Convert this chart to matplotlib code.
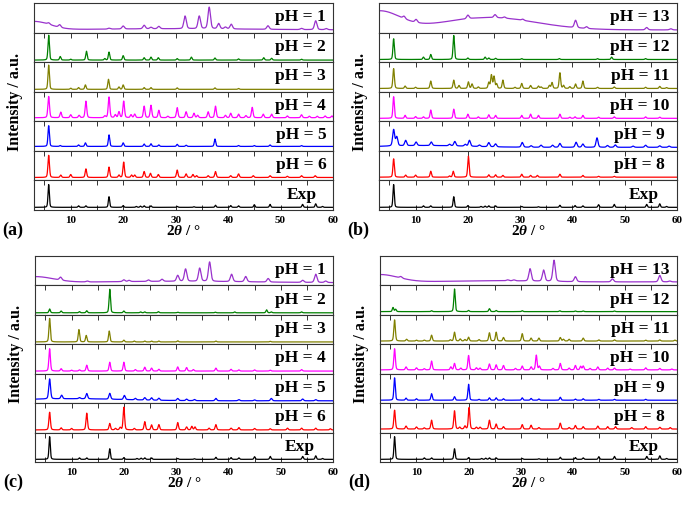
import numpy as np
import matplotlib
matplotlib.use("Agg")
import matplotlib.pyplot as plt

plt.rcParams['font.family'] = ['Liberation Serif', 'DejaVu Serif']
plt.rcParams['font.weight'] = 'bold'
plt.rcParams['mathtext.fontset'] = 'custom'
plt.rcParams['mathtext.rm'] = 'Liberation Serif:bold'
plt.rcParams['mathtext.it'] = 'Liberation Serif:italic:bold'
plt.rcParams['mathtext.bf'] = 'Liberation Serif:bold'

# ---------------- data: peak positions (2theta) and heights (fraction of strip) ----------------
EXP_POS = [5.8, 11.5, 12.9, 17.3, 20.0, 22.5, 23.3, 24.0, 25.3, 30.3, 33.5, 37.6, 40.5, 42.0, 45.0, 48.0, 54.2, 56.7, 58.0]
EXP_HT  = [0.77, 0.05, 0.05, 0.36, 0.06, 0.03, 0.04, 0.05, 0.05, 0.03, 0.02, 0.07, 0.06, 0.05, 0.09, 0.10, 0.10, 0.12, 0.03]
EXP_BASE = 0.09

# panel (a)
A1_POS = [5.8, 7.9, 17.3, 20.0, 24.0, 25.3, 26.8, 31.8, 34.5, 36.4, 38.2, 39.5, 40.6, 47.6, 54.0, 56.7, 58.7]
A1_HT  = [0.05, 0.09, 0.03, 0.10, 0.12, 0.05, 0.08, 0.43, 0.43, 0.73, 0.18, 0.06, 0.16, 0.12, 0.04, 0.30, 0.04]
A1_BG  = [(3.0, 0.28, 3.0), (30.0, 0.04, 15.0)]
A1_BASE = 0.09
A2_POS = [5.8, 8.0, 10.0, 13.0, 16.5, 17.3, 20.0, 24.0, 25.3, 26.7, 30.3, 33.0, 37.5, 42.0, 46.8, 48.3, 54.0]
A2_HT  = [0.84, 0.12, 0.03, 0.30, 0.05, 0.27, 0.15, 0.08, 0.10, 0.08, 0.05, 0.10, 0.07, 0.04, 0.08, 0.06, 0.03]
A2_BASE = 0.07
A3_POS = [5.8, 10.0, 11.5, 12.8, 17.2, 19.2, 20.0, 24.0, 25.3, 30.3, 37.5, 42.0]
A3_HT  = [0.82, 0.04, 0.06, 0.15, 0.34, 0.08, 0.15, 0.06, 0.06, 0.05, 0.05, 0.03]
A3_BASE = 0.08
A4_POS = [5.8, 8.1, 10.0, 11.6, 12.9, 16.5, 17.3, 18.5, 19.2, 20.1, 21.5, 22.2, 24.0, 25.3, 26.8, 28.5, 30.3, 32.0,
          33.5, 34.2, 36.2, 37.6, 39.5, 40.5, 42.0, 43.4, 44.6, 46.7, 48.3, 51.3, 54.0, 55.5, 57.0, 58.5, 59.8]
A4_HT  = [0.72, 0.19, 0.10, 0.08, 0.56, 0.06, 0.70, 0.10, 0.20, 0.56, 0.10, 0.12, 0.39, 0.42, 0.25, 0.05, 0.34, 0.20,
          0.15, 0.08, 0.20, 0.39, 0.08, 0.15, 0.12, 0.07, 0.35, 0.12, 0.12, 0.06, 0.10, 0.05, 0.05, 0.06, 0.06]
A4_BASE = 0.12
A5_POS = [5.8, 8.0, 11.5, 12.8, 17.3, 20.0, 24.0, 25.3, 26.8, 30.3, 32.0, 37.5, 42.0, 45.0, 48.0, 54.0]
A5_HT  = [0.70, 0.03, 0.05, 0.12, 0.39, 0.12, 0.08, 0.09, 0.05, 0.07, 0.04, 0.25, 0.03, 0.03, 0.05, 0.03]
A5_BASE = 0.15
A6_POS = [5.8, 8.1, 10.0, 12.9, 17.3, 19.2, 20.1, 21.6, 22.2, 24.0, 25.2, 26.7, 30.3, 32.0, 33.3, 34.0, 36.2, 37.6,
          40.5, 42.0, 44.8, 48.0, 51.3, 54.0, 56.6]
A6_HT  = [0.75, 0.08, 0.10, 0.29, 0.35, 0.08, 0.52, 0.08, 0.08, 0.20, 0.14, 0.10, 0.25, 0.12, 0.10, 0.06, 0.06, 0.20,
          0.06, 0.12, 0.06, 0.06, 0.04, 0.06, 0.06]
A6_BASE = 0.10

# panel (b)
B13_POS = [7.8, 10.1, 20.0, 25.2, 27.0, 30.5, 40.6, 42.7, 54.2, 58.8]
B13_HT  = [0.08, 0.10, 0.12, 0.10, 0.04, 0.04, 0.25, 0.06, 0.08, 0.04]
B13_BG  = [(3.0, 0.62, 4.0), (24.0, 0.42, 9.0)]
B13_BASE = 0.09
B12_POS = [5.8, 11.5, 12.9, 17.3, 20.0, 23.3, 24.0, 25.3, 30.3, 37.5, 44.8, 47.5, 54.0]
B12_HT  = [0.70, 0.08, 0.17, 0.81, 0.05, 0.08, 0.05, 0.04, 0.03, 0.03, 0.03, 0.08, 0.03]
B12_BASE = 0.09
B11_POS = [5.8, 8.0, 10.0, 12.9, 17.3, 18.3, 20.1, 20.8, 22.0, 24.0, 24.5, 25.0, 25.5, 26.7, 29.0, 30.3, 32.0, 33.5,
           34.0, 35.6, 36.1, 37.6, 38.3, 39.5, 40.6, 42.0, 44.8, 48.0, 54.0, 56.7, 58.0]
B11_HT  = [0.67, 0.08, 0.04, 0.25, 0.28, 0.10, 0.22, 0.15, 0.05, 0.20, 0.45, 0.40, 0.15, 0.28, 0.04, 0.17, 0.10, 0.08,
           0.05, 0.10, 0.20, 0.53, 0.10, 0.06, 0.15, 0.25, 0.04, 0.05, 0.04, 0.07, 0.03]
B11_BASE = 0.11
B10_POS = [5.8, 8.0, 10.0, 11.5, 12.9, 17.3, 20.0, 22.0, 24.0, 25.3, 30.3, 32.0, 33.5, 37.6, 39.5, 40.5, 42.0, 45.0,
           48.0, 54.0, 56.7]
B10_HT  = [0.73, 0.10, 0.06, 0.05, 0.28, 0.31, 0.14, 0.05, 0.12, 0.10, 0.10, 0.14, 0.10, 0.14, 0.04, 0.05, 0.10, 0.04,
           0.05, 0.05, 0.04]
B10_BASE = 0.10
B9_POS = [5.8, 6.4, 8.1, 10.1, 13.0, 16.5, 17.5, 19.5, 20.3, 22.2, 24.0, 25.3, 30.4, 32.1, 34.0, 36.2, 37.6, 40.7,
          42.0, 44.7, 46.7, 48.2, 51.6, 54.0, 56.7, 58.5]
B9_HT  = [0.55, 0.30, 0.18, 0.12, 0.12, 0.05, 0.15, 0.06, 0.20, 0.05, 0.14, 0.10, 0.16, 0.05, 0.07, 0.07, 0.13, 0.17,
          0.11, 0.32, 0.06, 0.08, 0.04, 0.07, 0.05, 0.04]
B9_BG  = [(12.0, 0.06, 8.0)]
B9_BASE = 0.12
B8_POS = [5.8, 8.1, 10.0, 12.9, 16.5, 17.2, 20.1, 24.0, 25.3, 26.7, 30.3, 32.0, 33.3, 37.6, 42.0, 45.0, 48.0]
B8_HT  = [0.62, 0.07, 0.07, 0.20, 0.04, 0.20, 0.71, 0.08, 0.08, 0.06, 0.10, 0.06, 0.06, 0.10, 0.06, 0.03, 0.03]
B8_BASE = 0.11

# panel (c)
C1_POS = [7.9, 13.0, 20.0, 21.0, 24.7, 27.3, 30.3, 31.8, 34.5, 36.4, 40.6, 43.3, 47.6, 54.2, 56.7, 58.6]
C1_HT  = [0.10, 0.03, 0.06, 0.04, 0.05, 0.07, 0.20, 0.42, 0.45, 0.66, 0.25, 0.18, 0.12, 0.07, 0.28, 0.05]
C1_BG  = [(3.0, 0.20, 3.5), (30.0, 0.05, 15.0)]
C1_BASE = 0.09
C2_POS = [5.8, 8.0, 11.5, 12.9, 17.3, 20.0, 23.2, 24.0, 26.6, 30.3, 37.5, 41.2, 47.3, 48.2, 54.0]
C2_HT  = [0.13, 0.06, 0.04, 0.07, 0.80, 0.06, 0.03, 0.03, 0.04, 0.02, 0.02, 0.03, 0.10, 0.03, 0.03]
C2_BASE = 0.07
C3_POS = [5.8, 11.4, 12.8, 17.2, 20.0, 22.0, 24.0, 25.3, 26.7, 30.3, 37.6, 48.0]
C3_HT  = [0.80, 0.42, 0.22, 0.37, 0.06, 0.03, 0.03, 0.03, 0.03, 0.04, 0.03, 0.02]
C3_BASE = 0.08
C4_POS = [5.8, 8.0, 10.0, 11.5, 12.9, 17.3, 20.0, 22.2, 24.0, 25.3, 26.7, 30.3, 32.0, 33.3, 37.6, 40.5, 42.0, 45.0,
          48.0, 54.0]
C4_HT  = [0.76, 0.08, 0.03, 0.04, 0.20, 0.30, 0.30, 0.05, 0.13, 0.10, 0.06, 0.14, 0.12, 0.05, 0.10, 0.06, 0.04, 0.04,
          0.03, 0.05]
C4_BASE = 0.09
C5_POS = [5.8, 8.1, 11.5, 12.9, 17.3, 20.1, 22.2, 24.0, 25.3, 26.7, 30.3, 32.0, 33.5, 37.6, 42.0, 45.0, 48.2, 54.2, 56.7]
C5_HT  = [0.68, 0.12, 0.04, 0.18, 0.20, 0.14, 0.05, 0.08, 0.08, 0.07, 0.07, 0.05, 0.04, 0.08, 0.04, 0.03, 0.08, 0.06, 0.04]
C5_BG  = [(10.0, 0.07, 10.0)]
C5_BASE = 0.08
C6_POS = [5.8, 8.0, 10.0, 12.9, 17.3, 18.4, 19.3, 20.0, 22.0, 24.0, 25.3, 26.7, 30.3, 32.0, 33.0, 33.6, 36.3, 37.6,
          40.5, 42.0, 45.0, 48.0, 51.3, 54.0, 56.7, 59.5]
C6_HT  = [0.60, 0.07, 0.05, 0.57, 0.22, 0.05, 0.08, 0.77, 0.05, 0.28, 0.17, 0.18, 0.25, 0.10, 0.12, 0.10, 0.06, 0.18,
          0.06, 0.08, 0.05, 0.04, 0.06, 0.06, 0.06, 0.04]
C6_BASE = 0.09

# panel (d)
D13_POS = [7.0, 27.5, 28.7, 31.8, 34.4, 36.4, 40.5, 47.6, 56.7, 58.6]
D13_HT  = [0.05, 0.03, 0.03, 0.42, 0.38, 0.72, 0.17, 0.10, 0.22, 0.03]
D13_BG  = [(3.0, 0.25, 3.5), (25.0, 0.04, 8.0)]
D13_BASE = 0.12
D12_POS = [5.5, 6.0, 12.9, 17.3, 20.0, 24.0, 25.3, 30.3, 37.5, 40.5, 42.0, 48.0]
D12_HT  = [0.14, 0.08, 0.03, 0.77, 0.04, 0.10, 0.04, 0.03, 0.03, 0.02, 0.02, 0.02]
D12_BASE = 0.11
D11_POS = [5.8, 8.1, 10.0, 11.5, 12.9, 16.5, 17.3, 18.4, 19.3, 20.0, 22.0, 24.0, 25.3, 26.7, 30.3, 32.0, 33.5, 37.6,
           38.2, 39.3, 42.0, 45.0, 48.0, 54.0, 56.7, 59.6]
D11_HT  = [0.72, 0.06, 0.03, 0.03, 0.20, 0.04, 0.30, 0.07, 0.05, 0.13, 0.05, 0.28, 0.30, 0.12, 0.25, 0.10, 0.10, 0.12,
           0.06, 0.06, 0.10, 0.04, 0.04, 0.03, 0.04, 0.03]
D11_BASE = 0.11
D10_POS = [5.8, 8.0, 10.0, 11.5, 12.9, 16.6, 17.3, 18.5, 20.0, 21.5, 22.2, 24.0, 25.3, 26.7, 29.0, 30.3, 32.0, 33.0,
           33.6, 36.2, 37.6, 39.3, 40.5, 41.5, 42.0, 43.3, 44.8, 46.7, 48.0, 51.0, 54.0, 56.7, 59.0]
D10_HT  = [0.72, 0.10, 0.07, 0.04, 0.30, 0.10, 0.22, 0.06, 0.49, 0.07, 0.06, 0.20, 0.17, 0.15, 0.05, 0.13, 0.10, 0.50,
           0.12, 0.05, 0.22, 0.06, 0.15, 0.12, 0.13, 0.05, 0.10, 0.06, 0.06, 0.03, 0.07, 0.05, 0.03]
D10_BASE = 0.13
D9_POS = [5.8, 8.0, 10.0, 12.9, 17.3, 20.0, 22.0, 24.0, 25.3, 26.7, 30.3, 32.0, 33.5, 37.6, 40.5, 42.0, 45.0, 48.0, 54.0]
D9_HT  = [0.76, 0.07, 0.05, 0.22, 0.12, 0.54, 0.03, 0.08, 0.08, 0.05, 0.08, 0.06, 0.04, 0.10, 0.04, 0.05, 0.03, 0.03, 0.03]
D9_BASE = 0.10
D8_POS = [5.8, 8.0, 10.0, 11.5, 12.9, 17.3, 18.3, 19.3, 20.1, 21.5, 22.2, 24.0, 25.3, 26.7, 30.3, 32.0, 33.5, 37.6,
          39.3, 40.5, 42.0, 44.8, 46.7, 48.2, 51.3, 54.0, 56.7, 58.7]
D8_HT  = [0.64, 0.10, 0.07, 0.04, 0.30, 0.62, 0.06, 0.10, 0.73, 0.06, 0.06, 0.30, 0.17, 0.08, 0.15, 0.13, 0.05, 0.20,
          0.05, 0.12, 0.08, 0.10, 0.08, 0.08, 0.05, 0.08, 0.06, 0.05]
D8_BASE = 0.12

COLORS = ['#9932CC', '#008000', '#808000', '#FF00FF', '#0000FF', '#FF0000', '#000000']
LABELS_AC = ['pH = 1', 'pH = 2', 'pH = 3', 'pH = 4', 'pH = 5', 'pH = 6', 'Exp']
LABELS_BD = ['pH = 13', 'pH = 12', 'pH = 11', 'pH = 10', 'pH = 9', 'pH = 8', 'Exp']

# trace definitions: (positions, heights, base, background, peak FWHM)
PANELS = {
    'a': [(A1_POS, A1_HT, A1_BASE, A1_BG, 0.55), (A2_POS, A2_HT, A2_BASE, [], 0.32),
          (A3_POS, A3_HT, A3_BASE, [], 0.32), (A4_POS, A4_HT, A4_BASE, [], 0.36),
          (A5_POS, A5_HT, A5_BASE, [], 0.32), (A6_POS, A6_HT, A6_BASE, [], 0.34),
          (EXP_POS, EXP_HT, EXP_BASE, [], 0.3)],
    'b': [(B13_POS, B13_HT, B13_BASE, B13_BG, 0.55), (B12_POS, B12_HT, B12_BASE, [], 0.32),
          (B11_POS, B11_HT, B11_BASE, [], 0.34), (B10_POS, B10_HT, B10_BASE, [], 0.32),
          (B9_POS, B9_HT, B9_BASE, B9_BG, 0.45), (B8_POS, B8_HT, B8_BASE, [], 0.32),
          (EXP_POS, EXP_HT, EXP_BASE, [], 0.3)],
    'c': [(C1_POS, C1_HT, C1_BASE, C1_BG, 0.55), (C2_POS, C2_HT, C2_BASE, [], 0.32),
          (C3_POS, C3_HT, C3_BASE, [], 0.32), (C4_POS, C4_HT, C4_BASE, [], 0.34),
          (C5_POS, C5_HT, C5_BASE, C5_BG, 0.4), (C6_POS, C6_HT, C6_BASE, [], 0.34),
          (EXP_POS, EXP_HT, EXP_BASE, [], 0.3)],
    'd': [(D13_POS, D13_HT, D13_BASE, D13_BG, 0.55), (D12_POS, D12_HT, D12_BASE, [], 0.32),
          (D11_POS, D11_HT, D11_BASE, [], 0.34), (D10_POS, D10_HT, D10_BASE, [], 0.34),
          (D9_POS, D9_HT, D9_BASE, [], 0.32), (D8_POS, D8_HT, D8_BASE, [], 0.34),
          (EXP_POS, EXP_HT, EXP_BASE, [], 0.3)],
}

X = np.arange(3.0, 60.0001, 0.02)


def profile(pos, ht, base, bg, w):
    y = np.full_like(X, base)
    for c, h, s in bg:
        y += h * np.exp(-0.5 * ((X - c) / s) ** 2)
    for p, h in zip(pos, ht):
        d = (X - p) / w
        y += h * (0.7 * np.exp(-4 * np.log(2) * d ** 2) + 0.3 / (1 + 4 * d ** 2))
    return y


W, H = 685, 505
fig = plt.figure(figsize=(W / 100, H / 100), dpi=100)

# layout in pixels: left, top, right, bottom
BOXES = {'a': (34, 3, 333, 210), 'b': (379, 3, 677, 210),
         'c': (35, 256, 333, 462), 'd': (380, 256, 677, 462)}
LABEL_X = {'a': [0.975, 0.975, 0.975, 0.975, 0.98, 0.98, 0.945],
           'b': [0.975, 0.975, 0.975, 0.975, 0.96, 0.96, 0.94],
           'c': [0.975, 0.975, 0.975, 0.975, 0.975, 0.975, 0.94],
           'd': [0.975, 0.975, 0.975, 0.975, 0.96, 0.96, 0.94]}

for key, traces in PANELS.items():
    l, t, r, b = BOXES[key]
    n = len(traces)
    sh = (b - t) / n
    labels = LABELS_AC if key in 'ac' else LABELS_BD
    for i, (pos, ht, base, bg, w) in enumerate(traces):
        top = t + i * sh
        ax = fig.add_axes([l / W, 1 - (top + sh) / H, (r - l) / W, sh / H])
        ax.plot(X, profile(pos, ht, base, bg, w), color=COLORS[i], lw=0.9)
        ax.set_xlim(3, 60)
        ax.set_ylim(0, 1)
        ax.set_yticks([])
        ax.set_xticks(np.arange(5, 61, 5))
        last = (i == n - 1)
        ax.set_xticklabels([str(v) if v % 10 == 0 else '' for v in range(5, 61, 5)])
        ax.tick_params(axis='x', direction='in', length=3.5, width=0.7, top=(i > 0),
                       bottom=last, labelbottom=last, labelsize=8, pad=4, color='#333333')
        for s in ax.spines.values():
            s.set_linewidth(0.8)
            s.set_color('#333333')
        ax.text(LABEL_X[key][i], 0.52, labels[i], transform=ax.transAxes, ha='right', va='center',
                fontsize=12.5, fontweight='bold')
        if last:
            for lab in ax.get_xticklabels():
                lab.set_fontweight('bold')
    # axis labels
    cx = (l + r) / 2
    fig.text(cx / W, 1 - (b + 21) / H, r'2$\theta$ / °', ha='center', va='center', fontsize=11,
             fontweight='bold')
    fig.text((l - 19) / W, 1 - ((t + b) / 2 - 5) / H, 'Intensity / a.u.', rotation=90, ha='center',
             va='center', fontsize=11.5, fontweight='bold')
    fig.text((l - 32) / W, 1 - (b + 20) / H, '(%s)' % key, ha='left', va='center', fontsize=13,
             fontweight='bold')

fig.savefig('out.png', dpi=100)
